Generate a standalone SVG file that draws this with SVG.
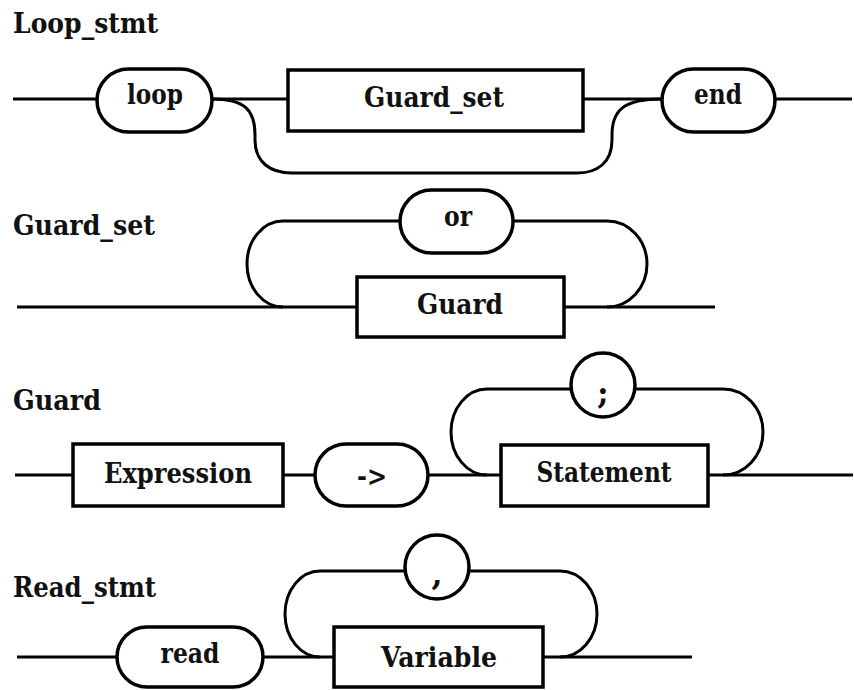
<svg xmlns="http://www.w3.org/2000/svg" width="854" height="690" viewBox="0 0 854 690">
  <style>
    text { font-family: "DejaVu Serif", "Liberation Serif", serif; font-weight: 700; fill: #111; font-size: 27px; }
    .lbl { text-anchor: middle; }
    .punct { font-size: 32px; }
    .box { fill: #fff; stroke: #000; stroke-width: 3.5; }
    .wire { fill: none; stroke: #000; stroke-width: 3; }
  </style>
  <rect width="854" height="690" fill="#fff"/>

  <!-- Rule titles -->
  <text x="13" y="33" textLength="145" lengthAdjust="spacingAndGlyphs">Loop_stmt</text>
  <text x="13" y="235" textLength="142" lengthAdjust="spacingAndGlyphs">Guard_set</text>
  <text x="13" y="410" textLength="88" lengthAdjust="spacingAndGlyphs">Guard</text>
  <text x="13" y="597" textLength="143" lengthAdjust="spacingAndGlyphs">Read_stmt</text>

  <!-- Connectors -->
  <g id="connectors">
    <!-- Loop_stmt -->
    <path class="wire" d="M13,99 H97"/>
    <path class="wire" d="M212,99 H288"/>
    <path class="wire" d="M583,99 H662"/>
    <path class="wire" d="M775,99 H852"/>
    <path class="wire" d="M212,99 C245,99 255,110 255,135 L255,140 C255,162 270,173 292,173 L577,173 C598,173 612,162 612,140 L612,135 C612,110 624,99 662,99"/>
    <!-- Guard_set -->
    <path class="wire" d="M17,307 H357"/>
    <path class="wire" d="M564,307 H715"/>
    <path class="wire" d="M400,221 H283 A36,43 0 0 0 283,307"/>
    <path class="wire" d="M513,221 H607 A40,43 0 0 1 607,307"/>
    <!-- Guard -->
    <path class="wire" d="M15,475 H73"/>
    <path class="wire" d="M283,475 H315"/>
    <path class="wire" d="M428,475 H501"/>
    <path class="wire" d="M708,475 H853"/>
    <path class="wire" d="M571,389 H487 A36,43 0 0 0 487,475"/>
    <path class="wire" d="M635,389 H723 A40,43 0 0 1 723,475"/>
    <!-- Read_stmt -->
    <path class="wire" d="M17,657 H117"/>
    <path class="wire" d="M263,657 H334"/>
    <path class="wire" d="M543,657 H692"/>
    <path class="wire" d="M405,571 H320 A35,43 0 0 0 320,657"/>
    <path class="wire" d="M470,571 H560 A37,43 0 0 1 560,657"/>
  </g>

  <!-- Loop_stmt nodes -->
  <g id="t-loop">
    <rect class="box" x="97" y="69" width="115" height="63" rx="31.5"/>
    <text class="lbl" x="155" y="104" textLength="56" lengthAdjust="spacingAndGlyphs">loop</text>
  </g>
  <g id="n-guard-set-ref">
    <rect class="box" x="288" y="70" width="295" height="61"/>
    <text class="lbl" x="434" y="107" textLength="140" lengthAdjust="spacingAndGlyphs">Guard_set</text>
  </g>
  <g id="t-end">
    <rect class="box" x="662" y="69" width="113" height="63" rx="31.5"/>
    <text class="lbl" x="718" y="104" textLength="48" lengthAdjust="spacingAndGlyphs">end</text>
  </g>

  <!-- Guard_set nodes -->
  <g id="t-or">
    <rect class="box" x="400" y="190" width="113" height="63" rx="31.5"/>
    <text class="lbl" x="458" y="226" textLength="28" lengthAdjust="spacingAndGlyphs">or</text>
  </g>
  <g id="n-guard-ref">
    <rect class="box" x="357" y="277" width="207" height="60"/>
    <text class="lbl" x="460" y="314" textLength="86" lengthAdjust="spacingAndGlyphs">Guard</text>
  </g>

  <!-- Guard nodes -->
  <g id="n-expression">
    <rect class="box" x="73" y="444" width="210" height="62"/>
    <text class="lbl" x="178" y="483" textLength="148" lengthAdjust="spacingAndGlyphs">Expression</text>
  </g>
  <g id="t-arrow">
    <rect class="box" x="315" y="444" width="113" height="62" rx="31"/>
    <text class="lbl" x="372" y="486" textLength="30" lengthAdjust="spacingAndGlyphs">-&gt;</text>
  </g>
  <g id="t-semicolon">
    <circle class="box" cx="603" cy="385" r="32"/>
    <text class="lbl punct" x="603" y="404">;</text>
  </g>
  <g id="n-statement">
    <rect class="box" x="501" y="445" width="207" height="61"/>
    <text class="lbl" x="604" y="482" textLength="135" lengthAdjust="spacingAndGlyphs">Statement</text>
  </g>

  <!-- Read_stmt nodes -->
  <g id="t-read">
    <rect class="box" x="117" y="627" width="146" height="60" rx="30"/>
    <text class="lbl" x="190" y="663" textLength="59" lengthAdjust="spacingAndGlyphs">read</text>
  </g>
  <g id="t-comma">
    <circle class="box" cx="437" cy="567" r="32"/>
    <text class="lbl punct" x="437" y="585">,</text>
  </g>
  <g id="n-variable">
    <rect class="box" x="334" y="627" width="209" height="60"/>
    <text class="lbl" x="439" y="667" textLength="116" lengthAdjust="spacingAndGlyphs">Variable</text>
  </g>
</svg>
